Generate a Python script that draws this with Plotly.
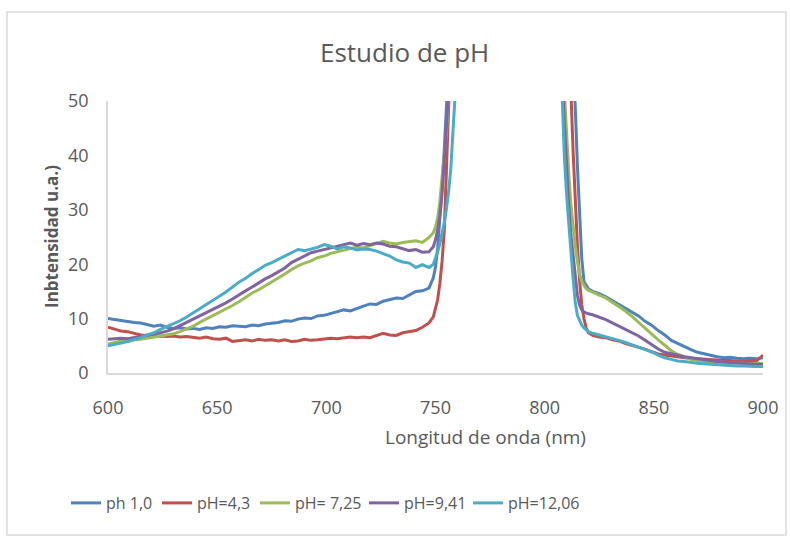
import plotly.graph_objects as go

# Wavelength grid (nm)
wavelength = [
    600, 603, 606, 609, 612, 615, 618, 621, 624, 627,
    630, 633, 636, 639, 642, 645, 648, 651, 654, 657,
    660, 663, 666, 669, 672, 675, 678, 681, 684, 687,
    690, 693, 696, 699, 702, 705, 708, 711, 714, 717,
    720, 723, 726, 729, 732, 735, 738, 741, 744, 747,
    749, 750, 751, 752, 753, 754, 755, 756, 757, 758, 759, 760, 762, 765, 770,
    800, 804, 806, 807, 808, 809, 810, 811, 812, 813, 814, 815, 816, 817, 818, 819, 820, 822,
    825, 828, 831, 834, 837, 840, 843, 846, 849, 852, 855, 858, 861,
    864, 867, 870, 873, 876, 879, 882, 885, 888, 891, 894, 897, 900,
]

ph_1_0 = [
    10.0, 9.8, 9.6, 9.5, 9.3, 9.2, 8.9, 8.6, 8.8, 8.4,
    8.2, 8.3, 8.1, 8.2, 8.0, 8.3, 8.2, 8.5, 8.4, 8.7,
    8.6, 8.5, 8.8, 8.7, 9.0, 9.1, 9.3, 9.6, 9.5, 9.9,
    10.1, 10.0, 10.5, 10.6, 10.9, 11.2, 11.6, 11.4, 11.9, 12.3,
    12.7, 12.6, 13.2, 13.5, 13.8, 13.7, 14.4, 15.0, 15.1, 15.6,
    17.5, 19.5, 23, 28, 34, 41, 48, 57, 67, 79, 91, 104, 130, 170, 250,
    400, 250, 190, 160, 135, 112, 92, 76, 63, 55, 49, 38, 28, 21, 16.8, 16.0, 15.5, 15.0,
    14.6, 14.0, 13.3, 12.6, 12.0, 11.2, 10.5, 9.5, 8.8, 7.8, 7.0, 6.0, 5.4,
    4.8, 4.3, 3.8, 3.5, 3.2, 3.0, 2.8, 2.9, 2.7, 2.6, 2.7, 2.6, 2.8,
]

ph_4_3 = [
    8.4, 8.0, 7.7, 7.6, 7.3, 7.0, 6.9, 6.8, 6.8, 6.7,
    6.8, 6.6, 6.7, 6.5, 6.4, 6.6, 6.3, 6.2, 6.4, 5.8,
    6.0, 6.1, 5.9, 6.2, 6.0, 6.1, 5.9, 6.1, 5.8, 5.9,
    6.2, 6.0, 6.1, 6.3, 6.4, 6.3, 6.5, 6.6, 6.5, 6.6,
    6.5, 6.9, 7.3, 7.0, 6.9, 7.4, 7.6, 7.8, 8.4, 9.2,
    10.3, 11.8, 13.5, 16.5, 20.5, 26, 33, 41, 49, 58, 70, 83, 110, 150, 230,
    380, 220, 160, 130, 105, 86, 70, 59, 52, 41, 31, 23.5, 17, 12.5, 10, 8.3, 7.4, 6.9,
    6.6, 6.5, 6.1, 5.9, 5.4, 5.1, 4.8, 4.4, 3.9, 3.5, 3.3, 3.1, 2.9,
    2.8, 2.7, 2.6, 2.6, 2.5, 2.4, 2.3, 2.3, 2.2, 2.1, 2.2, 2.2, 3.3,
]

ph_7_25 = [
    5.3, 5.6, 5.9, 5.8, 6.1, 6.2, 6.4, 6.6, 6.8, 6.9,
    7.2, 7.6, 8.1, 8.6, 9.3, 9.9, 10.5, 11.2, 11.8, 12.4,
    13.1, 13.9, 14.7, 15.3, 16.0, 16.8, 17.4, 18.2, 19.0, 19.7,
    20.2, 20.6, 21.2, 21.5, 22.0, 22.3, 22.7, 22.9, 23.1, 23.0,
    23.4, 23.8, 24.2, 23.9, 23.7, 24.0, 24.1, 24.3, 24.0, 24.9,
    25.8, 26.8, 28.5, 31.5, 36, 40, 44, 51, 60, 72, 85, 98, 125, 165, 245,
    350, 150, 100, 80, 65, 52, 44, 37, 31, 27, 23.5, 20.5, 18.2, 16.8, 16.0, 15.5, 15.2, 14.8,
    14.3, 13.8, 13.0, 12.3, 11.4, 10.4, 9.3, 8.2, 7.1, 6.1, 5.1, 4.1, 3.4,
    2.9, 2.5, 2.3, 2.1, 2.0, 2.0, 1.9, 1.8, 1.8, 1.8, 1.7, 1.8, 1.7,
]

ph_9_41 = [
    6.2, 6.3, 6.4, 6.3, 6.5, 6.7, 6.9, 7.1, 7.4, 7.7,
    8.1, 8.7, 9.3, 9.9, 10.4, 11.0, 11.7, 12.3, 12.9, 13.6,
    14.4, 15.1, 15.8, 16.6, 17.3, 17.9, 18.6, 19.3, 20.3, 20.9,
    21.6, 22.1, 22.4, 22.7, 23.0, 23.3, 23.6, 23.9, 23.5, 23.8,
    23.6, 23.9, 23.7, 23.3, 23.2, 22.9, 22.5, 22.7, 22.2, 22.3,
    23.2, 24.5, 26.3, 29, 33, 39, 46, 55, 65, 77, 89, 102, 127, 167, 247,
    330, 140, 90, 70, 56, 46, 38, 31, 25.5, 21.8, 17.5, 14.3, 12.5, 11.6, 11.2, 11.0, 10.9, 10.7,
    10.3, 9.8, 9.2, 8.6, 8.0, 7.4, 6.8, 6.0, 5.2, 4.4, 3.8, 3.5, 3.2,
    3.0, 2.8, 2.6, 2.4, 2.2, 2.1, 2.0, 1.9, 1.8, 1.7, 1.7, 1.6, 1.6,
]

ph_12_06 = [
    5.0, 5.2, 5.5, 5.8, 6.1, 6.5, 7.0, 7.4, 8.0, 8.5,
    9.0, 9.6, 10.3, 11.0, 11.8, 12.6, 13.3, 14.1, 14.9, 15.8,
    16.7, 17.4, 18.3, 19.0, 19.8, 20.3, 20.9, 21.4, 22.0, 22.7,
    22.5, 22.8, 23.1, 23.6, 23.3, 22.8, 23.2, 23.0, 22.6, 22.8,
    22.7, 22.4, 21.9, 21.5, 20.8, 20.4, 20.2, 19.4, 19.9, 19.4,
    20.0, 21.0, 22.3, 23.8, 25.5, 27.6, 30.2, 33.3, 37.5, 43, 50, 58, 78, 115, 200,
    320, 130, 80, 62, 49, 40, 33, 27, 22.5, 17.5, 13, 10.6, 9.5, 8.8, 8.3, 7.9, 7.6, 7.3,
    7.0, 6.7, 6.3, 6.0, 5.6, 5.2, 4.8, 4.4, 3.9, 3.3, 2.8, 2.5, 2.2,
    2.1, 1.9, 1.8, 1.7, 1.6, 1.6, 1.5, 1.4, 1.3, 1.3, 1.2, 1.2, 1.2,
]

series_names = ["ph 1,0", "pH=4,3", "pH= 7,25", "pH=9,41", "pH=12,06"]
series_values = [ph_1_0, ph_4_3, ph_7_25, ph_9_41, ph_12_06]
series_colors = ["#4F81BD", "#C0504D", "#9BBB59", "#8064A2", "#4BACC6"]

x_ticks = [600, 650, 700, 750, 800, 850, 900]
y_ticks = [0, 10, 20, 30, 40, 50]

FONT = "Open Sans"
TEXT = "#595959"

# plot area: x 108..763 px, y 101..373 px
L, R, T, B = 108, 27, 101, 164
W, H = 790, 537
pw, ph = W - L - R, H - T - B


def px_x(p):
    return (p - L) / pw


def px_y(p):
    return (H - B - p) / ph


# left edge (px) of each legend entry
legend_left = [66, 157, 255, 364, 468]
legend_ids = ["legend", "legend2", "legend3", "legend4", "legend5"]

fig = go.Figure()
for name, vals, col, lid in zip(series_names, series_values, series_colors, legend_ids):
    fig.add_trace(go.Scatter(
        x=wavelength, y=vals, name=name, mode="lines",
        line=dict(color=col, width=3), legend=lid,
    ))

legend_layout = {}
for lid, left in zip(legend_ids, legend_left):
    legend_layout[lid] = dict(
        orientation="h", x=px_x(left), xanchor="left", y=px_y(503), yanchor="middle",
        font=dict(size=16, color=TEXT, family=FONT), itemwidth=30,
        bgcolor="rgba(0,0,0,0)",
    )

fig.update_layout(
    width=W, height=H,
    margin=dict(l=L, r=R, t=T, b=B),
    paper_bgcolor="white", plot_bgcolor="white",
    font=dict(family=FONT, color=TEXT, size=18),
    showlegend=True,
    **legend_layout,
    xaxis=dict(
        range=[600, 900], tickvals=x_ticks, showgrid=False, zeroline=False,
        showline=True, linecolor="#D9D9D9", linewidth=1.5, ticks="",
        ticklabelstandoff=18, tickfont=dict(size=18, color=TEXT),
    ),
    yaxis=dict(
        range=[0, 50], tickvals=y_ticks, showgrid=False, zeroline=False,
        showline=True, linecolor="#D9D9D9", linewidth=1.5, ticks="",
        ticklabelstandoff=14, tickfont=dict(size=18, color=TEXT),
    ),
    shapes=[dict(
        type="rect", xref="paper", yref="paper",
        x0=px_x(7), x1=px_x(786), y0=px_y(535), y1=px_y(12),
        line=dict(color="#D9D9D9", width=1.5), fillcolor="rgba(0,0,0,0)",
        layer="below",
    )],
    annotations=[
        dict(text="Estudio de pH", xref="paper", yref="paper",
             x=px_x(404), y=px_y(52), xanchor="center", yanchor="middle",
             showarrow=False, font=dict(size=26, color=TEXT)),
        dict(text="Longitud de onda (nm)", xref="paper", yref="paper",
             x=px_x(485), y=px_y(437), xanchor="center", yanchor="middle",
             showarrow=False, font=dict(size=19, color=TEXT)),
        dict(text="<b>Inbtensidad u.a.)</b>", xref="paper", yref="paper",
             x=px_x(51), y=px_y(237), xanchor="center", yanchor="middle",
             textangle=-90, showarrow=False, font=dict(size=17, color=TEXT)),
    ],
)

fig.write_html("out.html")
